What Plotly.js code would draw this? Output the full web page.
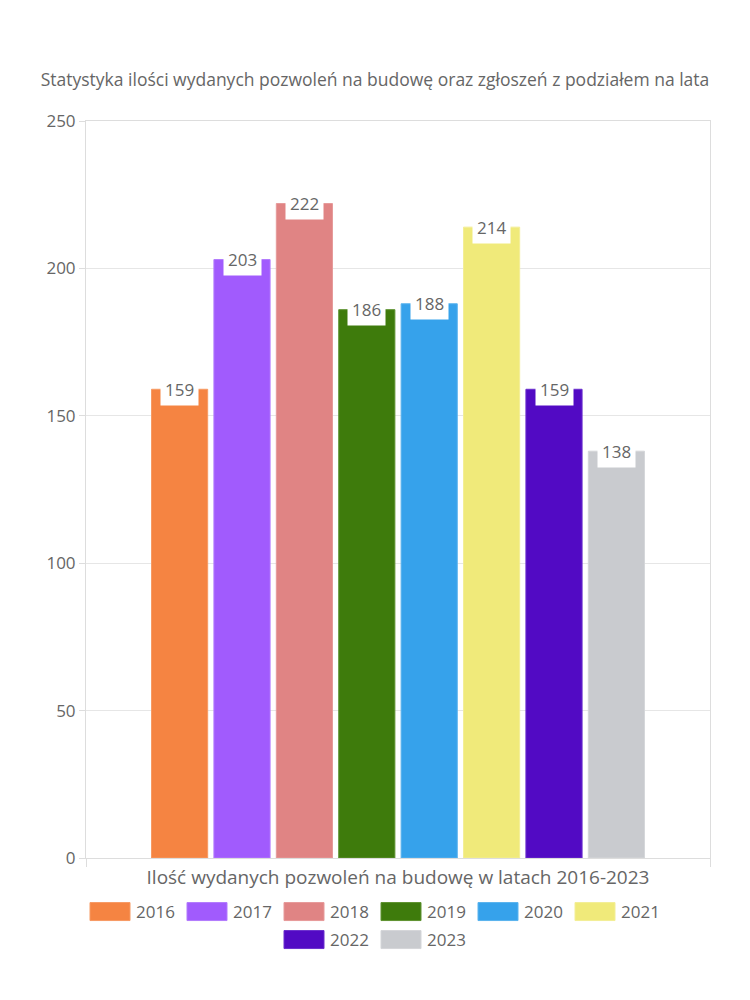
<!DOCTYPE html>
<html>
<head>
<meta charset="utf-8">
<script src="https://cdn.plot.ly/plotly-3.0.1.min.js"></script>
<style>html,body{margin:0;padding:0;background:#fff;}#chart{width:750px;height:1000px;}</style>
</head>
<body>
<div id="chart"></div>
<script>
const category = ["Ilość wydanych pozwoleń na budowę w latach 2016-2023"];
const years = ["2016","2017","2018","2019","2020","2021","2022","2023"];
const values = [159, 203, 222, 186, 188, 214, 159, 138];
const colors = ["#F58442","#A15BFD","#E08484","#3E7B0C","#36A2EB","#F0EA7A","#520AC4","#C9CBCF"];
const borders = ["#F79A63","#B27BFD","#E69A9A","#5E9230","#5AB3EE","#F3EE96","#6A2FCD","#D4D6D9"];
const legendRow = ["legend","legend","legend","legend","legend","legend","legend2","legend2"];
const titleText = "Statystyka ilości wydanych pozwoleń na budowę oraz zgłoszeń z podziałem na lata";
const yTicks = [0, 50, 100, 150, 200, 250];

const FONT = "Open Sans, Noto Sans, sans-serif";
const GRAY = "#666666";

const bargap = 0.2, bargroupgap = 0.1;
const n = years.length;
const slot = (1 - bargap) / n;

const traces = years.map((y, i) => ({
  type: "bar",
  name: y,
  x: category,
  y: [values[i]],
  legend: legendRow[i],
  marker: {color: colors[i], line: {color: borders[i], width: 1}},
  hoverinfo: "name+y"
}));

const annotations = values.map((v, i) => ({
  xref: "x", yref: "y",
  x: -(1 - bargap) / 2 + slot * (i + 0.5),
  y: v,
  text: String(v),
  showarrow: false,
  xanchor: "center", yanchor: "middle",
  bgcolor: "#ffffff",
  borderpad: 4,
  font: {family: FONT, size: 17, color: GRAY}
}));

const legendBase = {
  orientation: "h", xref: "container", x: 0.5, xanchor: "center",
  yref: "container", yanchor: "middle",
  itemwidth: 42, entrywidth: 40, entrywidthmode: "pixels",
  font: {family: FONT, size: 17, color: GRAY},
  tracegroupgap: 0, itemclick: false, bgcolor: "rgba(0,0,0,0)"
};

const layout = {
  width: 750, height: 1000,
  paper_bgcolor: "#fff", plot_bgcolor: "#fff",
  margin: {l: 86, r: 40, t: 121, b: 142},
  font: {family: FONT, color: GRAY, size: 17},
  title: {text: titleText, x: 0.5, xref: "container", xanchor: "center",
          y: 0.92, yref: "container", yanchor: "middle",
          font: {family: FONT, size: 17.5, color: GRAY}},
  barmode: "group",
  bargap: bargap, bargroupgap: bargroupgap,
  xaxis: {
    type: "category",
    showticklabels: false,
    ticks: "outside", tickson: "boundaries", ticklen: 8, tickcolor: "#dddddd",
    showline: true, linecolor: "#dddddd", mirror: true, linewidth: 1,
    showgrid: false,
    title: {text: category[0], standoff: 12, font: {family: FONT, size: 19, color: GRAY}}
  },
  yaxis: {
    range: [0, 250],
    tickvals: yTicks,
    ticks: "outside", ticklen: 6, tickcolor: "#dddddd",
    showline: true, linecolor: "#dddddd", mirror: true,
    gridcolor: "#e6e6e6", zeroline: false,
    tickfont: {family: FONT, size: 17, color: GRAY}
  },
  showlegend: true,
  legend: Object.assign({}, legendBase, {y: 0.088}),
  legend2: Object.assign({}, legendBase, {y: 0.060}),
  annotations: annotations
};

Plotly.newPlot("chart", traces, layout, {displayModeBar: false, staticPlot: true}).then(() => {
  document.querySelectorAll(".legendpoints path").forEach(p => {
    p.setAttribute("d", "M-20,-9H20V9H-20Z");
  });
});
</script>
</body>
</html>
